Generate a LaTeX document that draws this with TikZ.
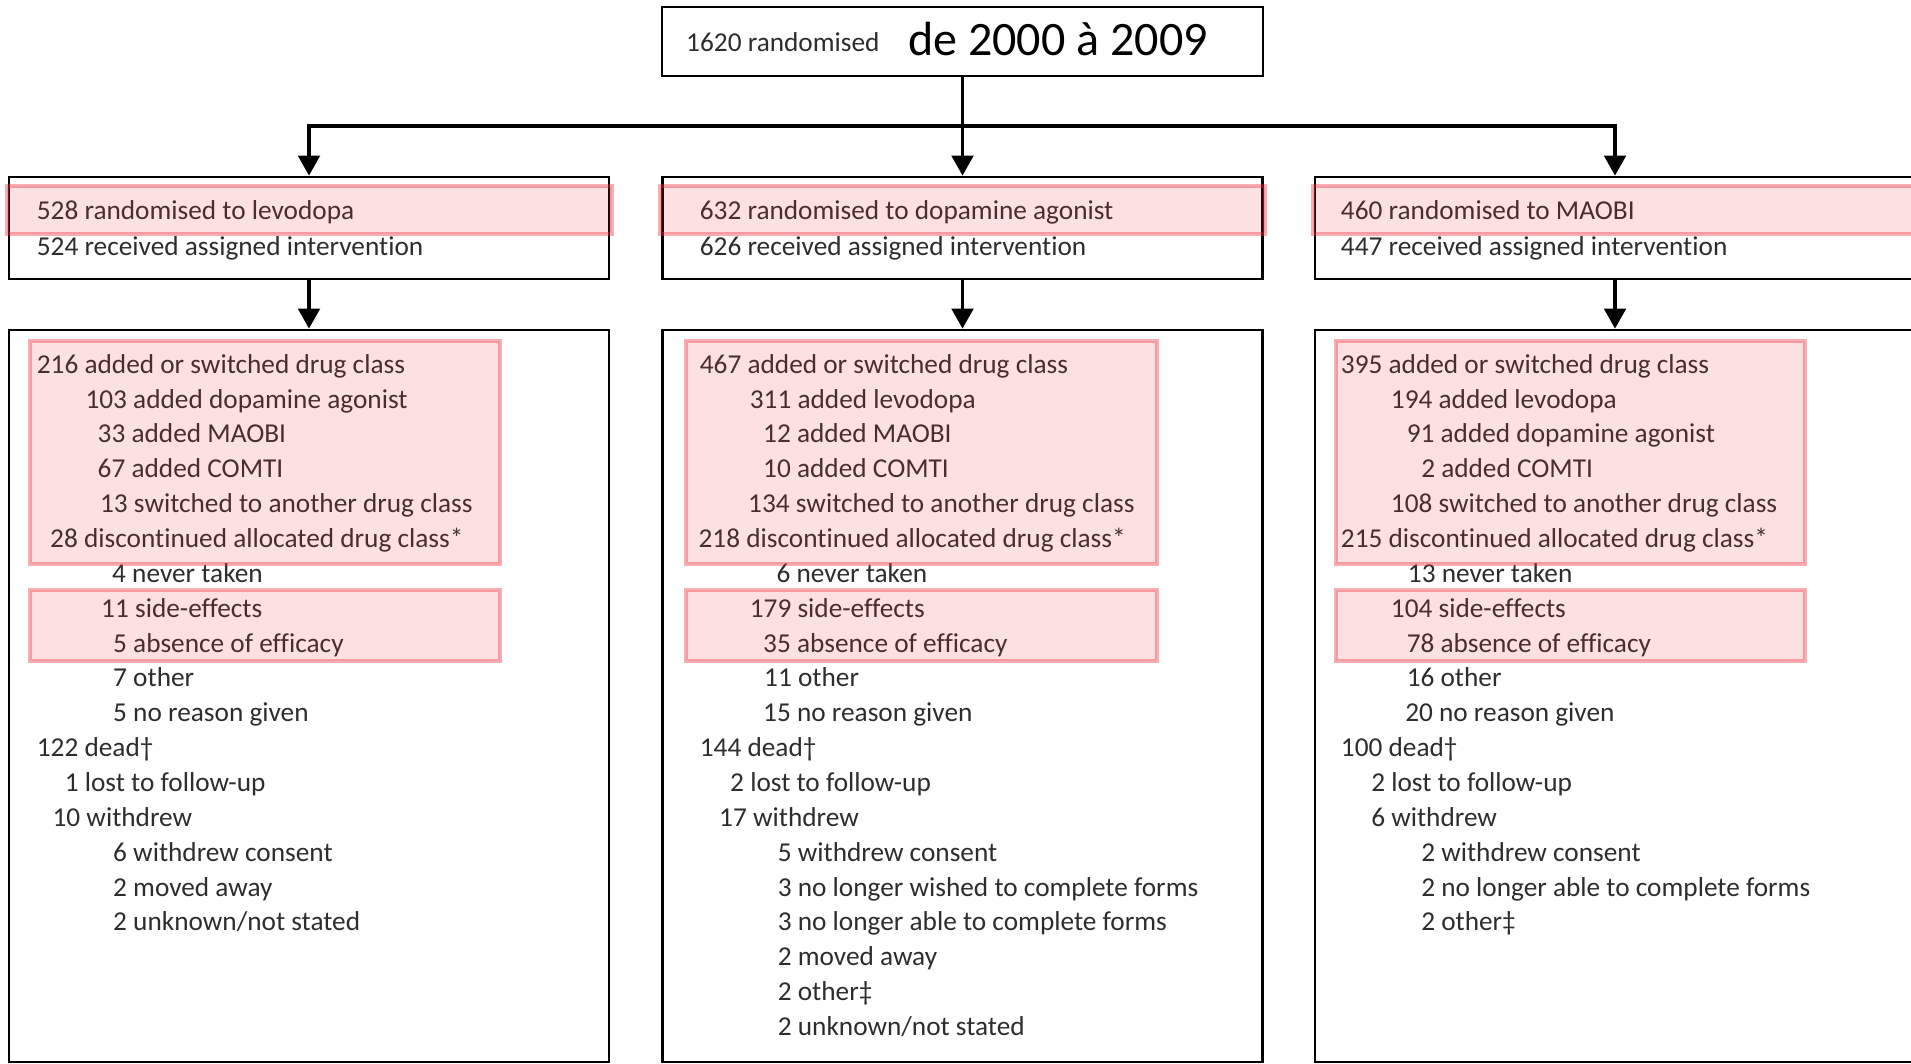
\documentclass[tikz,border=0pt]{standalone}
\usepackage{fontspec}
\setmainfont{Carlito}[Ligatures=NoCommon]
\usetikzlibrary{arrows.meta,positioning}
\definecolor{inkgrey}{RGB}{45,45,45}
\definecolor{markred}{RGB}{235,50,60}
\tikzset{>={Triangle[length=6mm,width=6.5mm]}}
\tikzset{
  box/.style={draw=black, line width=2.4pt, inner sep=0pt, minimum width=180mm},
  flow/.style={->, line width=2.6pt},
  entry/.style={anchor=base west, inner sep=0pt, text=inkgrey, font=\fontsize{23.3}{28}\selectfont},
  hilite/.style={fill=markred, fill opacity=0.15, draw=markred, draw opacity=0.4, line width=3pt}
}

\begin{document}
\begin{tikzpicture}[x=0.3mm, y=-0.3mm]
  \clip (0,0) rectangle (1911,1064);
  % boxes
  \node[box, minimum width=180.3mm, minimum height=20.7mm] (top) at (962.5,41.5) {};
  \node[box, minimum height=30.6mm] (lev) at (309,228) {};
  \node[box, minimum height=30.6mm] (dop) at (962.5,228) {};
  \node[box, minimum height=30.6mm] (mao) at (1615,228) {};
  \node[box, minimum height=219.6mm] (levout) at (309,696) {};
  \node[box, minimum height=219.6mm] (dopout) at (962.5,696) {};
  \node[box, minimum height=219.6mm] (maoout) at (1615,696) {};
  \coordinate (split) at (962.5,126);

  \node[anchor=base west, inner sep=0pt, text=inkgrey, font=\fontsize{23.3}{28}\selectfont] (total) at (686,52) {1620 randomised};
  \node[anchor=base west, inner sep=0pt, font=\fontsize{41}{48}\selectfont] (years) at (908,56) {de 2000 à 2009};

  \draw[flow] (top) -- (dop);
  \draw[flow] (split) -| (lev);
  \draw[flow] (split) -| (mao);
  \draw[flow] (lev) -- (levout);
  \draw[flow] (dop) -- (dopout);
  \draw[flow] (mao) -- (maoout);

  \node[entry] (lev-a) at (36.6,220) {528 randomised to levodopa};
  \node[entry] (lev-b) at (36.6,255) {524 received assigned intervention};
  \node[entry] (dop-a) at (699.6,220) {632 randomised to dopamine agonist};
  \node[entry] (dop-b) at (699.6,255) {626 received assigned intervention};
  \node[entry] (mao-a) at (1340.7,220) {460 randomised to MAOBI};
  \node[entry] (mao-b) at (1340.7,255) {447 received assigned intervention};

  \foreach \xx/\txt [count=\i] in {36.6/216 added or switched drug class, 85.3/103 added dopamine agonist,
      97.5/33 added MAOBI, 97.5/67 added COMTI, 99.9/13 switched to another drug class,
      50/28 discontinued allocated drug class*, 112/4 never taken, 101/11 side-effects,
      113/5 absence of efficacy, 113/7 other, 113/5 no reason given, 36.6/122 dead†,
      64.6/1 lost to follow-up, 52.4/10 withdrew, 113/6 withdrew consent, 113/2 moved away,
      113/{2 unknown/not stated}}
    \node[entry, name=levl\i] at (\xx,338.3+34.86*\i) {\txt};

  \foreach \xx/\txt [count=\i] in {699.6/467 added or switched drug class, 749.6/311 added levodopa,
      763/12 added MAOBI, 763/10 added COMTI, 748/134 switched to another drug class,
      698.4/218 discontinued allocated drug class*, 776.4/6 never taken, 749.6/179 side-effects,
      763/35 absence of efficacy, 764/11 other, 763/15 no reason given, 699.6/144 dead†,
      730/2 lost to follow-up, 719/17 withdrew, 777.6/5 withdrew consent,
      777.6/3 no longer wished to complete forms, 777.6/3 no longer able to complete forms,
      777.6/2 moved away, 777.6/2 other‡, 777.6/{2 unknown/not stated}}
    \node[entry, name=dopl\i] at (\xx,338.3+34.86*\i) {\txt};

  \foreach \xx/\txt [count=\i] in {1340.7/395 added or switched drug class, 1390.7/194 added levodopa,
      1406.5/91 added dopamine agonist, 1421/2 added COMTI, 1390.7/108 switched to another drug class,
      1340.7/215 discontinued allocated drug class*, 1407.7/13 never taken, 1390.7/104 side-effects,
      1406.5/78 absence of efficacy, 1406.5/16 other, 1405/20 no reason given, 1340.7/100 dead†,
      1371/2 lost to follow-up, 1371/6 withdrew, 1421/2 withdrew consent,
      1421/2 no longer able to complete forms, 1421/2 other‡}
    \node[entry, name=maol\i] at (\xx,338.3+34.86*\i) {\txt};

  % highlights
  \draw[hilite] (7,186) rectangle (612,234);
  \draw[hilite] (660,186) rectangle (1265,234);
  \draw[hilite] (1313,186) rectangle (1930,234);
  \foreach \lx/\rx in {30/500, 686/1157, 1336/1805} {
    \draw[hilite] (\lx,341) rectangle (\rx,564);
    \draw[hilite] (\lx,590) rectangle (\rx,661);
  }
\end{tikzpicture}
\end{document}
